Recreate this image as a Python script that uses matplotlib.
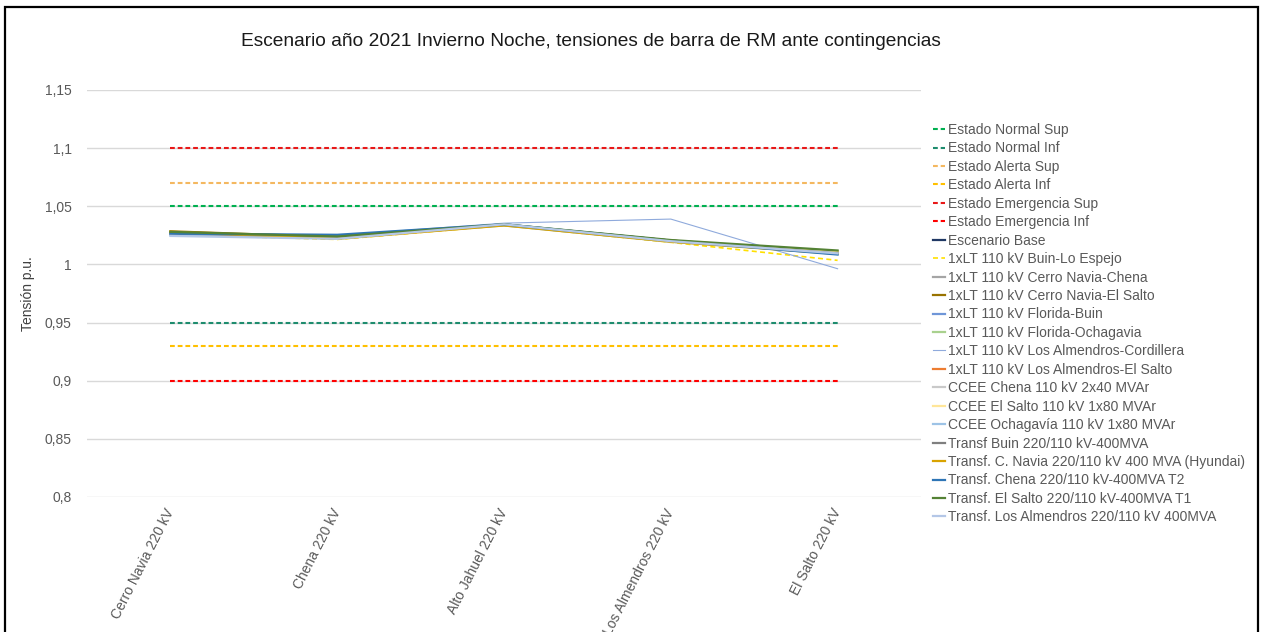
import numpy as np
from matplotlib import pyplot as plt
from matplotlib.ticker import FuncFormatter, MultipleLocator
from matplotlib.patches import Rectangle

plt.rcParams['font.family'] = ['Liberation Sans', 'DejaVu Sans']

title = "Escenario año 2021 Invierno Noche, tensiones de barra de RM ante contingencias"
buses = ["Cerro Navia 220 kV", "Chena 220 kV", "Alto Jahuel 220 kV", "Los Almendros 220 kV", "El Salto 220 kV"]

# limit lines (constant per state)
limit_names = ["Estado Normal Sup", "Estado Normal Inf", "Estado Alerta Sup", "Estado Alerta Inf",
               "Estado Emergencia Sup", "Estado Emergencia Inf"]
limit_values = [1.05, 0.95, 1.07, 0.93, 1.10, 0.90]
limit_colors = ['#00B050', '#1E8C6E', '#F4B860', '#FFC000', '#E81818', '#FF0000']

# contingency scenarios
case_names = [
    "Escenario Base",
    "1xLT 110 kV Buin-Lo Espejo",
    "1xLT 110 kV Cerro Navia-Chena",
    "1xLT 110 kV Cerro Navia-El Salto",
    "1xLT 110 kV Florida-Buin",
    "1xLT 110 kV Florida-Ochagavia",
    "1xLT 110 kV Los Almendros-Cordillera",
    "1xLT 110 kV Los Almendros-El Salto",
    "CCEE Chena 110 kV 2x40 MVAr",
    "CCEE El Salto 110 kV 1x80 MVAr",
    "CCEE Ochagavía 110 kV 1x80 MVAr",
    "Transf Buin 220/110 kV-400MVA",
    "Transf. C. Navia 220/110 kV 400 MVA (Hyundai)",
    "Transf. Chena 220/110 kV-400MVA T2",
    "Transf. El Salto 220/110 kV-400MVA T1",
    "Transf. Los Almendros 220/110 kV 400MVA",
]
case_values = [
    [1.0265, 1.0235, 1.0340, 1.0200, 1.0095],
    [1.0255, 1.0215, 1.0335, 1.0190, 1.0035],
    [1.0265, 1.0230, 1.0340, 1.0200, 1.0095],
    [1.0285, 1.0235, 1.0340, 1.0205, 1.0100],
    [1.0260, 1.0235, 1.0345, 1.0205, 1.0095],
    [1.0265, 1.0235, 1.0340, 1.0205, 1.0110],
    [1.0245, 1.0250, 1.0355, 1.0390, 0.9963],
    [1.0265, 1.0235, 1.0340, 1.0205, 1.0110],
    [1.0265, 1.0225, 1.0340, 1.0200, 1.0100],
    [1.0265, 1.0230, 1.0340, 1.0200, 1.0105],
    [1.0255, 1.0230, 1.0335, 1.0195, 1.0095],
    [1.0265, 1.0235, 1.0340, 1.0200, 1.0095],
    [1.0280, 1.0220, 1.0335, 1.0195, 1.0090],
    [1.0265, 1.0255, 1.0345, 1.0205, 1.0085],
    [1.0280, 1.0240, 1.0345, 1.0210, 1.0120],
    [1.0245, 1.0220, 1.0345, 1.0200, 1.0095],
]
case_colors = ['#203864', '#FFE000', '#A5A5A5', '#997300', '#6F96D8', '#A9D18E', '#8FAADC', '#ED7D31',
               '#C9C9C9', '#FFE699', '#9DC3E6', '#7F7F7F', '#D9A300', '#2E75B6', '#548235', '#B4C7E7']
case_widths = [2, 1.5, 2, 2, 2, 2, 1, 2, 2, 2, 2, 2, 2, 2, 2, 2]

W, H = 1265, 632
fig = plt.figure(figsize=(W / 100, H / 100), dpi=100)
ax = fig.add_axes([87 / W, (H - 497) / H, (921 - 87) / W, (497 - 90) / H])

x = np.arange(len(buses))
dash = (2.3, 1.4)
for name, v, c in zip(limit_names, limit_values, limit_colors):
    ax.plot(x, [v] * len(x), color=c, lw=1.5, dashes=dash, label=name)

for name, vals, c, w in zip(case_names, case_values, case_colors, case_widths):
    if name.startswith("1xLT 110 kV Buin"):
        ax.plot(x, vals, color=c, lw=w * 0.8, label=name, dashes=(3, 2))
    else:
        ax.plot(x, vals, color=c, lw=w * 0.8, label=name)

ax.set_xlim(-0.5, len(buses) - 0.5)
ax.set_ylim(0.8, 1.15)
ax.yaxis.set_major_locator(MultipleLocator(0.05))
ax.yaxis.set_major_formatter(FuncFormatter(lambda v, p: "{:g}".format(round(v, 2)).replace('.', ',')))
ax.grid(axis='y', color='#D9D9D9', lw=1)
ax.set_axisbelow(True)
for s in ax.spines.values():
    s.set_visible(False)
ax.tick_params(length=0, labelsize=10, colors='#595959')
ax.tick_params(axis='y', pad=11)
ax.tick_params(axis='x', pad=9)

ax.set_xticks(x)
ax.set_xticklabels(buses, rotation=63, ha='right', va='center', rotation_mode='anchor')
ax.set_ylabel("Tensión p.u.", fontsize=10, color='#404040')
ax.yaxis.set_label_coords((35 - 87) / (921 - 87), 0.5)

fig.text(591 / W, (H - 42) / H, title, ha='center', va='center', fontsize=13.8, color='#1a1a1a')

leg = fig.legend(loc='upper left', bbox_to_anchor=(933 / W, (H - 123) / H), frameon=False,
                 fontsize=10, handlelength=0.85, handletextpad=0.2, labelspacing=0.32,
                 borderaxespad=0, borderpad=0)
for t in leg.get_texts():
    t.set_color('#595959')

fig.patches.append(Rectangle((5 / W, -0.1), (1258 - 5) / W, (H - 7) / H + 0.1, transform=fig.transFigure,
                             fill=False, edgecolor='black', lw=1.6))

fig.savefig("out.png", dpi=100)
